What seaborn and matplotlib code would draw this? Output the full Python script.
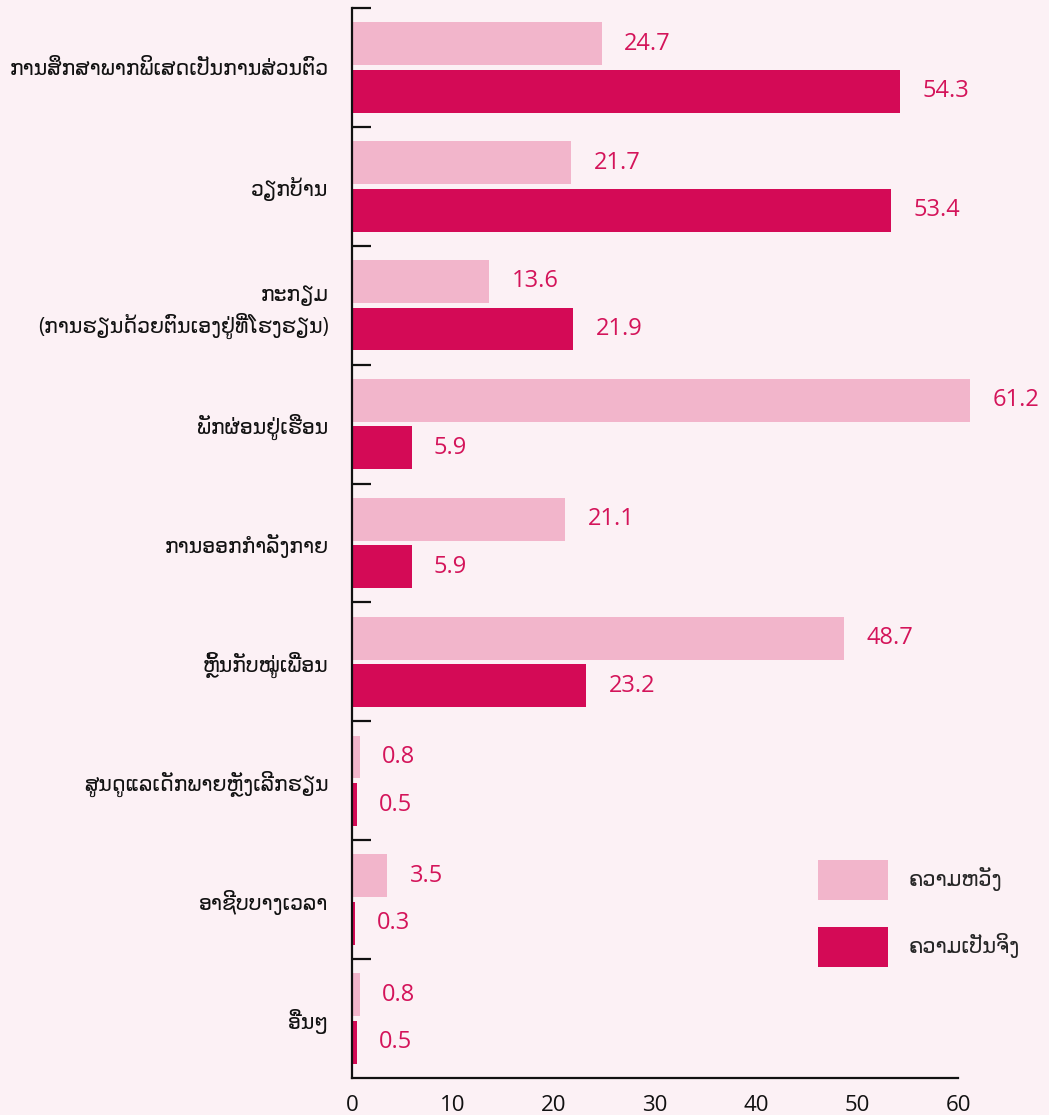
import numpy as np
import pandas as pd
import matplotlib
matplotlib.use("Agg")
import matplotlib.pyplot as plt
import seaborn as sns
from matplotlib.patches import Patch
from matplotlib.ticker import FixedLocator

categories = [
    "ການສຶກສາພາກພິເສດເປັນການສ່ວນຕົວ",
    "ວຽກບ້ານ",
    "ກະກຽມ\n(ການຮຽນດ້ວຍຕົນເອງຢູ່ທີ່ໂຮງຮຽນ)",
    "ພັກຜ່ອນຢູ່ເຮືອນ",
    "ການອອກກຳລັງກາຍ",
    "ຫຼິ້ນກັບໝູ່ເພື່ອນ",
    "ສູນດູແລເດັກພາຍຫຼັງເລີກຮຽນ",
    "ອາຊີບບາງເວລາ",
    "ອື່ນໆ",
]
hope = [24.7, 21.7, 13.6, 61.2, 21.1, 48.7, 0.8, 3.5, 0.8]
reality = [54.3, 53.4, 21.9, 5.9, 5.9, 23.2, 0.5, 0.3, 0.5]
series_names = ["ຄວາມຫວັງ", "ຄວາມເປັນຈິງ"]
x_ticks = [0, 10, 20, 30, 40, 50, 60]

LIGHT = "#f2b5cb"
DARK = "#d40a56"
TEXT_RED = "#d4145a"
BG = "#fcf1f5"

sns.set_theme(style="white")
plt.rcParams["font.family"] = ["Open Sans", "DejaVu Sans"]

df = pd.DataFrame({
    "category": categories * 2,
    "value": hope + reality,
    "series": [series_names[0]] * len(categories)
              + [series_names[1]] * len(categories),
})

fig = plt.figure(figsize=(10.49, 11.15), dpi=100, facecolor=BG)
ax = fig.add_axes([0.3356, 0.0332, 0.5777, 0.9596])
ax.set_facecolor(BG)

sns.barplot(
    data=df, y="category", x="value", hue="series", orient="h",
    palette=[LIGHT, DARK], width=0.8, gap=0.1, saturation=1,
    linewidth=0, edgecolor="none", legend=False, ax=ax,
)
for p in ax.patches:
    p.set_clip_on(False)

for cont in ax.containers:
    texts = ax.bar_label(cont, fmt="%.1f", padding=16, color=TEXT_RED,
                         fontsize=17)
    for t in texts:
        t.set_annotation_clip(False)
        t.set_clip_on(False)

ax.set_xlim(0, 60)
ax.set_xticks(x_ticks)
ax.set_ylim(len(categories) - 0.5, -0.5)
ax.set_xlabel("")
ax.set_ylabel("")

ax.tick_params(axis="x", direction="in", length=20, width=1.3,
               labelsize=16, pad=12, colors="#111111")
ax.tick_params(axis="y", which="major", length=0, pad=17,
               labelsize=14.8, colors="#111111")
for lab in ax.get_yticklabels():
    lab.set_linespacing(1.35)
ax.yaxis.set_minor_locator(
    FixedLocator(np.arange(-0.5, len(categories) - 1, 1.0)))
ax.tick_params(axis="y", which="minor", direction="in", length=14,
               width=1.6, left=True, color="#111111")

for side in ["top", "right"]:
    ax.spines[side].set_visible(False)
for side in ["left", "bottom"]:
    ax.spines[side].set_color("#111111")
    ax.spines[side].set_linewidth(1.6)

handles = [Patch(facecolor=LIGHT, linewidth=0),
           Patch(facecolor=DARK, linewidth=0)]
fig.legend(
    handles, series_names, loc="upper left",
    bbox_to_anchor=(0.78, 0.2287), frameon=False, fontsize=15,
    handlelength=3.35, handleheight=2.58, handletextpad=1.0,
    labelspacing=1.3, borderpad=0, borderaxespad=0,
)

plt.savefig("out.png", dpi=100, facecolor=BG)
plt.close()
